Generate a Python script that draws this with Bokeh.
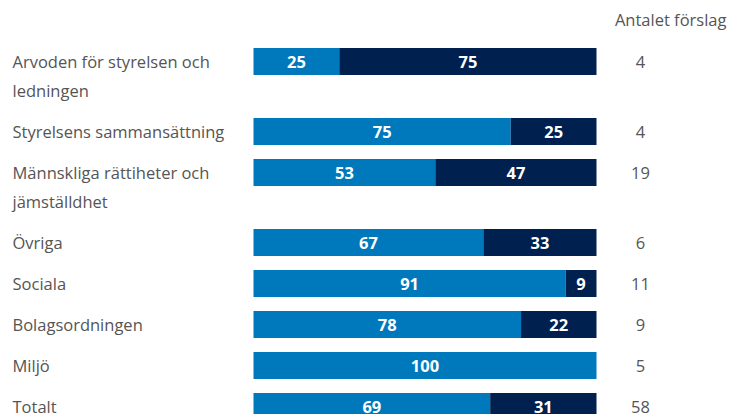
from bokeh.plotting import figure
from bokeh.models import Range1d
from bokeh.core.properties import value
from bokeh.embed import file_html
from bokeh.resources import INLINE

categories = ["Arvoden för styrelsen och\nledningen", "Styrelsens sammansättning",
              "Männskliga rättiheter och\njämställdhet", "Övriga", "Sociala",
              "Bolagsordningen", "Miljö", "Totalt"]
share_a = [25, 75, 53, 67, 91, 78, 100, 69]
share_b = [75, 25, 47, 33, 9, 22, 0, 31]
counts = [4, 4, 19, 6, 11, 9, 5, 58]
header = "Antalet förslag"

LIGHT = "#0079BC"
DARK = "#00214F"
GRAY = "#555555"
FONT = "Open Sans"

W, H = 737, 414
PX = 3.43  # pixels per percent
X0 = 253   # canvas x of 0 %
x_start = -X0 / PX
x_end = (W - X0) / PX

# row centres in canvas pixels
row_y = []
y = 61
for c in categories:
    row_y.append(y)
    y += 41 + 29 * (len(c.split("\n")) - 1)

p = figure(width=W, height=H, output_backend="svg", toolbar_location=None,
           x_range=Range1d(x_start, x_end), y_range=Range1d(H, 0),
           min_border=0)
p.axis.visible = False
p.grid.visible = False
p.outline_line_color = None
p.background_fill_color = "white"
p.border_fill_color = "white"

bar_h = 27
p.hbar(y=row_y, left=[0] * len(share_a), right=share_a, height=bar_h,
       fill_color=LIGHT, line_color=None)
p.hbar(y=row_y, left=share_a, right=[a + b for a, b in zip(share_a, share_b)],
       height=bar_h, fill_color=DARK, line_color=None)

# segment labels
lx, ly, lt = [], [], []
for a, b, yy in zip(share_a, share_b, row_y):
    if a > 0:
        lx.append(a / 2); ly.append(yy); lt.append(str(a))
    if b > 0:
        lx.append(a + b / 2); ly.append(yy); lt.append(str(b))
p.text(x=lx, y=ly, text=lt, text_color="white", text_font=value(FONT),
       text_font_style="bold", text_font_size="16.5px", text_align="center",
       text_baseline="middle")

# category labels
cx, cy, ct = [], [], []
for c, yy in zip(categories, row_y):
    for j, line in enumerate(c.split("\n")):
        cx.append(x_start + 12 / PX); cy.append(yy + 29 * j); ct.append(line)
p.text(x=cx, y=cy, text=ct, text_color=GRAY, text_font=value(FONT),
       text_font_size="16.5px", text_align="left", text_baseline="middle")

# counts
p.text(x=[(640 - X0) / PX] * len(counts), y=row_y, text=[str(c) for c in counts],
       text_color=GRAY, text_font=value(FONT), text_font_size="16.5px",
       text_align="center", text_baseline="middle")

# header
p.text(x=[(726 - X0) / PX], y=[19], text=[header], text_color=GRAY,
       text_font=value(FONT), text_font_size="16.5px", text_align="right",
       text_baseline="middle")

open("out.html", "w").write(file_html(p, INLINE))
